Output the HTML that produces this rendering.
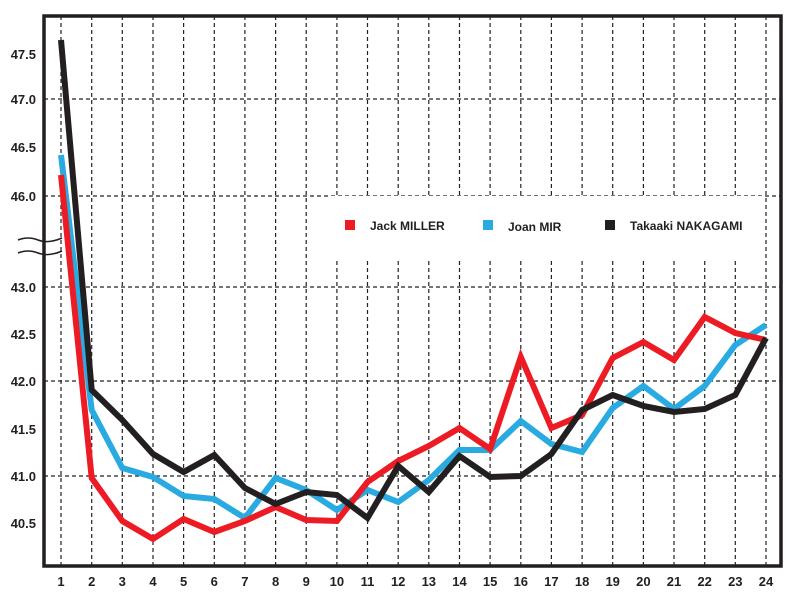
<!DOCTYPE html>
<html><head><style>body{margin:0;background:#fff}svg{display:block}</style></head><body>
<svg width="800" height="600" xmlns="http://www.w3.org/2000/svg" font-family="'Liberation Sans',sans-serif" font-weight="bold">
<rect width="800" height="600" fill="#fff"/>
<g stroke="#222" stroke-width="1.2" stroke-dasharray="4,3">
<line x1="44" x2="780" y1="99" y2="99"/><line x1="44" x2="780" y1="196" y2="196"/>
<line x1="44" x2="780" y1="287" y2="287"/><line x1="44" x2="780" y1="381" y2="381"/>
<line x1="44" x2="780" y1="476" y2="476"/>
<g id="v"></g>
</g>
<g stroke="#222" stroke-width="1.2" stroke-dasharray="4,3">
<line x1="61" x2="61" y1="16" y2="565"/><line x1="91.7" x2="91.7" y1="16" y2="565"/><line x1="122.3" x2="122.3" y1="16" y2="565"/><line x1="153" x2="153" y1="16" y2="565"/><line x1="183.6" x2="183.6" y1="16" y2="565"/><line x1="214.3" x2="214.3" y1="16" y2="565"/><line x1="244.9" x2="244.9" y1="16" y2="565"/><line x1="275.6" x2="275.6" y1="16" y2="565"/><line x1="306.2" x2="306.2" y1="16" y2="565"/><line x1="336.9" x2="336.9" y1="16" y2="565"/><line x1="367.5" x2="367.5" y1="16" y2="565"/><line x1="398.2" x2="398.2" y1="16" y2="565"/><line x1="428.8" x2="428.8" y1="16" y2="565"/><line x1="459.5" x2="459.5" y1="16" y2="565"/><line x1="490.1" x2="490.1" y1="16" y2="565"/><line x1="520.8" x2="520.8" y1="16" y2="565"/><line x1="551.4" x2="551.4" y1="16" y2="565"/><line x1="582.1" x2="582.1" y1="16" y2="565"/><line x1="612.7" x2="612.7" y1="16" y2="565"/><line x1="643.4" x2="643.4" y1="16" y2="565"/><line x1="674" x2="674" y1="16" y2="565"/><line x1="704.7" x2="704.7" y1="16" y2="565"/><line x1="735.3" x2="735.3" y1="16" y2="565"/><line x1="766" x2="766" y1="16" y2="565"/>
</g>
<rect x="330" y="196" width="434" height="62" fill="#fff"/>
<g fill="none" stroke-width="6" stroke-linejoin="miter">
<polyline stroke="#29abe2" points="61,155 91.7,410 122.3,468 153,477 183.6,496 214.3,499 244.9,518 275.6,478 306.2,490 336.9,510 367.5,490 398.2,502 428.8,480 459.5,450 490.1,450 520.8,421 551.4,444 582.1,452 612.7,408 643.4,386 674,409 704.7,386 735.3,345 766,325"/>
<polyline stroke="#ed1c24" points="61,175 91.7,478 122.3,521 153,539 183.6,519 214.3,532 244.9,521 275.6,507 306.2,520 336.9,521 367.5,482 398.2,461 428.8,446 459.5,428 490.1,449 520.8,357 551.4,428 582.1,415 612.7,358 643.4,342 674,360 704.7,317 735.3,333 766,340"/>
<polyline stroke="#231f20" points="61,40 91.7,390 122.3,420 153,454 183.6,472 214.3,455 244.9,488 275.6,504 306.2,492 336.9,495 367.5,518 398.2,466 428.8,492 459.5,456 490.1,477 520.8,476 551.4,454 582.1,410 612.7,395 643.4,406 674,412 704.7,409 735.3,395 766,338"/>
</g>
<path d="M44,16 H781 V566 H44 Z" fill="none" stroke="#231f20" stroke-width="3.5"/>
<g fill="none" stroke="#231f20" stroke-width="1.5">
<path d="M18,240 q10,-4 20,0 t24,-2"/><path d="M18,253 q10,-4 20,0 t24,-2"/>
</g>
<g font-size="13" fill="#231f20" text-anchor="end">
<text x="36" y="59">47.5</text><text x="36" y="104">47.0</text><text x="36" y="152">46.5</text><text x="36" y="201">46.0</text>
<text x="36" y="292">43.0</text><text x="36" y="339">42.5</text><text x="36" y="386">42.0</text><text x="36" y="434">41.5</text><text x="36" y="481">41.0</text><text x="36" y="528">40.5</text>
</g>
<g font-size="13" fill="#231f20" text-anchor="middle">
<text x="61" y="586">1</text><text x="91.7" y="586">2</text><text x="122.3" y="586">3</text><text x="153" y="586">4</text><text x="183.6" y="586">5</text><text x="214.3" y="586">6</text><text x="244.9" y="586">7</text><text x="275.6" y="586">8</text><text x="306.2" y="586">9</text><text x="336.9" y="586">10</text><text x="367.5" y="586">11</text><text x="398.2" y="586">12</text><text x="428.8" y="586">13</text><text x="459.5" y="586">14</text><text x="490.1" y="586">15</text><text x="520.8" y="586">16</text><text x="551.4" y="586">17</text><text x="582.1" y="586">18</text><text x="612.7" y="586">19</text><text x="643.4" y="586">20</text><text x="674" y="586">21</text><text x="704.7" y="586">22</text><text x="735.3" y="586">23</text><text x="766" y="586">24</text>
</g>
<rect x="345" y="220" width="10" height="10" fill="#ed1c24"/>
<rect x="483" y="220" width="10" height="10" fill="#29abe2"/>
<rect x="605" y="220" width="10" height="10" fill="#231f20"/>
<g font-size="12" fill="#231f20">
<text x="370" y="230">Jack MILLER</text><text x="508" y="231">Joan MIR</text><text x="630" y="230">Takaaki NAKAGAMI</text>
</g>
</svg>
</body></html>
